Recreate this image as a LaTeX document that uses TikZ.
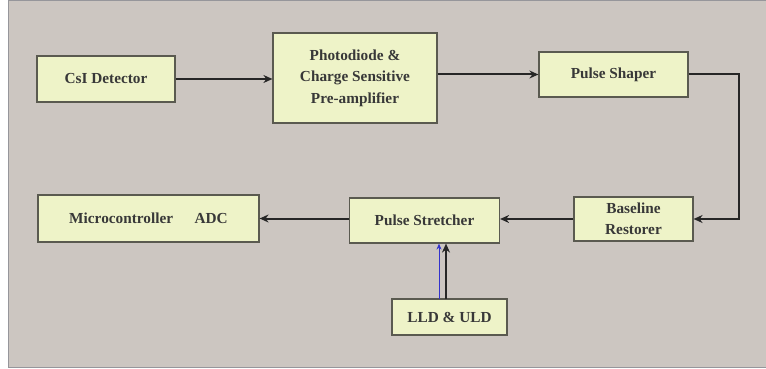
\documentclass[tikz,border=0pt]{standalone}
\usepackage{fontspec}
\setmainfont{Liberation Serif}
\usetikzlibrary{arrows.meta}
\definecolor{panel}{RGB}{204,198,193}
\definecolor{boxfill}{RGB}{238,243,200}
\definecolor{boxline}{RGB}{90,90,80}
\definecolor{frameline}{RGB}{150,150,155}
\tikzset{
  blk/.style={draw=boxline, line width=1.2pt, fill=boxfill, inner sep=0pt, align=center,
    font=\bfseries\fontsize{15.3}{21.5}\selectfont, text=black!78},
  conn/.style={draw=black!85, line width=2pt, -{Stealth[length=9pt,width=8pt]}},
}
\begin{document}
\begin{tikzpicture}[x=1pt,y=-1pt]
\useasboundingbox (0,0) rectangle (766,369);
\fill[white] (0,0) rectangle (766,369);
\filldraw[fill=panel, draw=frameline, line width=1pt] (8,0.5) rectangle (766.5,367);

\node[blk, minimum width=138, minimum height=46] (csi) at (106,79) {CsI Detector};
\node[blk, minimum width=164, minimum height=90] (photo) at (355,78) {Photodiode \&\\Charge Sensitive\\Pre-amplifier};
\node[blk, minimum width=149, minimum height=45] (shaper) at (613.5,74.5) {Pulse Shaper};
\node[blk, minimum width=119, minimum height=44] (base) at (633.5,219) {Baseline\\Restorer};
\node[blk, minimum width=150, minimum height=45] (stretch) at (424.5,220.5) {Pulse Stretcher};
\node[blk, minimum width=221, minimum height=47] (micro) at (148.5,218.5) {Microcontroller\hspace{1.4em}ADC};
\node[blk, minimum width=115, minimum height=36] (lld) at (449.5,317) {LLD \& ULD};

\coordinate (c1) at (739,74.5);
\coordinate (c2) at (739,219);
\coordinate (bl) at (439,299);
\coordinate (bk) at (446,299);

\draw[conn] (csi.east) -- (csi.east -| photo.west);
\draw[conn] (photo.east |- shaper.west) -- (shaper.west);
\draw[conn] (shaper.east) -- (c1) -- (c2) -- (base.east);
\draw[conn] (base.west) -- (base.west -| stretch.east);
\draw[conn] (stretch.west |- micro.east) -- (micro.east);
\draw[draw=blue!60!gray, line width=1pt, -{Stealth[length=6pt,width=5pt]}] (bl) -- (bl |- stretch.south);
\draw[conn] (bk) -- (bk |- stretch.south);
\end{tikzpicture}
\end{document}
